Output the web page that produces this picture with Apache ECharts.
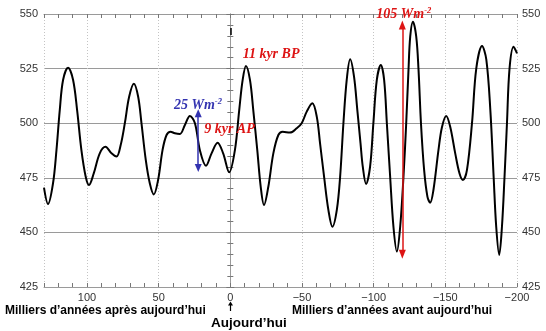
<!DOCTYPE html>
<html>
<head>
<meta charset="utf-8">
<script src="https://cdn.jsdelivr.net/npm/echarts@6/dist/echarts.min.js"></script>
<style>
  html, body { margin: 0; padding: 0; background: #fff; }
  #chart { width: 546px; height: 331px; }
</style>
</head>
<body>
<div id="chart"></div>
<script>
// Summer insolation (W/m2) against time in thousands of years;
// positive = after today, negative = before today.
const kyr = [
  130, 127.2, 123.7, 121.3, 119.0, 116.7, 113.2, 109.7, 106.9, 103.9,
  100.9, 98.6, 95.3, 91.1, 87.1, 82.9, 79.4, 76.5, 73.6, 70.6,
  67.3, 64.3, 62, 59, 56.2, 53.4, 50.4, 47.3, 44.5, 41.7,
  38.7, 35.2, 31.7, 28.2, 24.7, 21.2, 17.0, 13.1, 8.9, 5.0,
  0.8, -3.2, -6.2, -8.6, -10.9, -13.7, -16, -18.8, -21.2, -23.5,
  -26.5, -30, -33.5, -36.5, -41.6, -46.3, -49.8, -53.3, -57.2, -60.3,
  -62.6, -65.4, -68.4, -71.2, -74.3, -76.6, -78.9, -81.2, -83.6, -86.3,
  -88.6, -90.8, -92.4, -94.7, -97.5, -99.8, -102.2, -105, -107.3, -109.2,
  -111.5, -113.8, -116.2, -118.5, -120.8, -122.7, -124.3, -125.5, -127.4, -129.7,
  -131.3, -133, -135.2, -137.5, -139.4, -141.7, -145.2, -147.6, -150.6, -153.4,
  -156.9, -159.9, -162.3, -165.1, -168.6, -171.6, -175.6, -178.6, -181.4, -183.7,
  -185.5, -187.6, -189.5, -191.3, -193, -194.8, -197.6, -200
];
const insolation = [
  470.5, 463.0, 472.5, 487.7, 506.0, 519.8, 525.4, 519.8, 506, 487.7,
  475.5, 471.7, 477.0, 486.2, 489.2, 486.2, 484.7, 490, 500, 512.1,
  518.1, 512.1, 500, 483.2, 472.5, 467.4, 474, 487.7, 494.6, 496.1,
  495.4, 495.1, 499.2, 503.3, 500, 487.5, 480.5, 486.2, 491.1, 486.2,
  477.5, 487.7, 506, 519.8, 526.2, 519.8, 506, 487.7, 470.9, 462.5,
  470.9, 486.2, 494.6, 496.1, 495.7, 497.7, 500, 505.3, 509.1, 503,
  490.8, 475.5, 460.3, 452.6, 460.3, 475.5, 500, 519.8, 529.3, 521.3,
  506, 491, 480.1, 472.2, 480.1, 500, 519.8, 526.6, 519.8, 500,
  475.5, 452.6, 441.2, 452.6, 475.5, 500, 524.4, 539.6, 546.5, 539.6,
  524.4, 500, 478.6, 466.4, 463.6, 469.4, 487.7, 498, 503.3, 498.4,
  486.2, 477, 474, 478.6, 500, 525.1, 535.3, 529.1, 506, 475.5,
  452.6, 439.7, 452.6, 475.5, 500, 525.1, 535, 532
];
const yTicks = [425, 450, 475, 500, 525, 550];
const xTicks = [-200, -150, -100, -50, 0, 50, 100];

// Amplitude arrows: [kyr, low, high]
const smallSwing = [22.4, 479.5, 504.5];   // 25 Wm-2
const largeSwing = [-120, 440, 545];       // 105 Wm-2

const RED = '#dd1414';
const BLUE = '#3333b0';
const GRID = '#9a9a9a';

const chart = echarts.init(document.getElementById('chart'), null, { renderer: 'canvas' });

const fmtX = v => {
  if (xTicks.indexOf(v) < 0) return '';
  return v < 0 ? '\u2212' + Math.abs(v) : String(v);
};

const serifLabel = color => ({
  t: { fontFamily: 'Liberation Serif', fontStyle: 'italic', fontWeight: 'bold', fontSize: 14, color: color, lineHeight: 16 },
  s: { fontFamily: 'Liberation Serif', fontStyle: 'italic', fontWeight: 'bold', fontSize: 8.5, color: color, verticalAlign: 'top', lineHeight: 16, padding: [0, 0, 6, 0] }
});

const textPoint = (x, y, fmt, color, dy) => ({
  coord: [x, y],
  symbol: 'rect', symbolSize: 1,
  itemStyle: { color: 'rgba(0,0,0,0)' },
  label: { show: true, position: 'inside', offset: [0, dy || 0], formatter: fmt, rich: serifLabel(color) }
});

const option = {
  animation: false,
  backgroundColor: '#fff',
  grid: { left: 44, right: 29, top: 14, bottom: 44 },
  xAxis: [
    {
      type: 'value', min: -200, max: 130, interval: 50, inverse: true, position: 'bottom',
      axisLine: { show: true, lineStyle: { color: GRID, width: 1 } },
      axisTick: { show: false },
      axisLabel: { formatter: fmtX, color: '#333', fontSize: 11, fontFamily: 'Liberation Sans', margin: 5 },
      splitLine: { show: true, lineStyle: { color: '#c4c4c4', type: [1, 2], width: 1 } }
    },
    {
      type: 'value', min: -200, max: 130, interval: 10, inverse: true, position: 'bottom',
      axisLine: { show: false },
      axisTick: { show: true, inside: true, length: 4, lineStyle: { color: '#777' } },
      axisLabel: { show: false }, splitLine: { show: false }
    },
    {
      type: 'value', min: -200, max: 130, interval: 10, inverse: true, position: 'top',
      axisLine: { show: true, lineStyle: { color: GRID, width: 1 } },
      axisTick: { show: true, inside: true, length: 4, lineStyle: { color: '#777' } },
      axisLabel: { show: false }, splitLine: { show: false }
    }
  ],
  yAxis: [
    {
      type: 'value', min: 425, max: 550, interval: 25, position: 'left',
      axisLine: { show: true, lineStyle: { color: GRID } },
      axisTick: { show: true, inside: true, length: 4, lineStyle: { color: '#777' } },
      minorTick: { show: true, splitNumber: 5, length: 3, lineStyle: { color: '#777' } },
      axisLabel: { color: '#333', fontSize: 11, fontFamily: 'Liberation Sans', margin: 6 },
      splitLine: { show: true, lineStyle: { color: GRID, width: 1 } }
    },
    {
      type: 'value', min: 425, max: 550, interval: 25, position: 'right',
      axisLine: { show: true, lineStyle: { color: GRID } },
      axisTick: { show: true, inside: true, length: 4, lineStyle: { color: '#777' } },
      minorTick: { show: true, splitNumber: 5, length: 3, lineStyle: { color: '#777' } },
      axisLabel: { color: '#333', fontSize: 11, fontFamily: 'Liberation Sans', margin: 5 },
      splitLine: { show: false }
    }
  ],
  series: [
    {
      type: 'line',
      xAxisIndex: 0, yAxisIndex: 0,
      data: kyr.map((k, i) => [k, insolation[i]]),
      smooth: 0.35,
      showSymbol: false,
      lineStyle: { color: '#000', width: 2 },
      z: 3,
      markLine: {
        silent: true,
        animation: false,
        label: { show: false },
        data: [
          [
            { coord: [smallSwing[0], smallSwing[1]], symbol: 'triangle', symbolSize: [7, 8], lineStyle: { color: BLUE, width: 1.5, type: 'solid' } },
            { coord: [smallSwing[0], smallSwing[2]], symbol: 'triangle', symbolSize: [7, 8] }
          ],
          [
            { coord: [largeSwing[0], largeSwing[1]], symbol: 'triangle', symbolSize: [7, 9], lineStyle: { color: RED, width: 1.5, type: 'solid' } },
            { coord: [largeSwing[0], largeSwing[2]], symbol: 'triangle', symbolSize: [7, 9] }
          ],
          [
            { coord: [0, 543.6], symbol: 'none', lineStyle: { color: '#000', width: 1.5, type: 'solid' } },
            { coord: [0, 540.4], symbol: 'none' }
          ]
        ]
      },
      markPoint: {
        silent: true,
        animation: false,
        data: [
          textPoint(22.6, 508.3, '{t|25 Wm}{s|-2}', BLUE),
          textPoint(0.6, 497.2, '{t|9 kyr AP}', RED),
          textPoint(-28.4, 531.5, '{t|11 kyr BP}', RED),
          textPoint(-121, 549.5, '{t|105 Wm}{s|-2}', RED, -1)
        ]
      }
    }
  ],
  graphic: [
    {
      type: 'text', left: 5, top: 305,
      style: { text: 'Milliers d\u2019années après aujourd\u2019hui', font: 'bold 12px "Liberation Sans"', fill: '#000' }
    },
    {
      type: 'text', left: 292, top: 305,
      style: { text: 'Milliers d\u2019années avant aujourd\u2019hui', font: 'bold 12px "Liberation Sans"', fill: '#000' }
    },
    {
      type: 'text', left: 211, top: 316,
      style: { text: 'Aujourd\u2019hui', font: 'bold 13.5px "Liberation Sans"', fill: '#000' }
    },
    {
      type: 'line', shape: { x1: 230.5, y1: 311, x2: 230.5, y2: 305 },
      style: { stroke: '#000', lineWidth: 1.2 }
    },
    {
      type: 'polygon', shape: { points: [[228, 305.5], [233, 305.5], [230.5, 301.5]] },
      style: { fill: '#000' }
    }
  ]
};

chart.setOption(option);
</script>
</body>
</html>
